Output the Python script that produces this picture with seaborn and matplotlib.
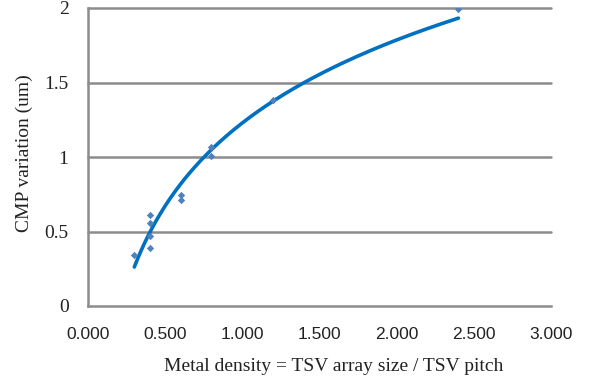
import numpy as np
import pandas as pd
import matplotlib
matplotlib.use("Agg")
import matplotlib.pyplot as plt
import seaborn as sns

# data
metal_density = [0.30, 0.40, 0.40, 0.40, 0.40, 0.60, 0.60, 0.80, 0.80, 1.20, 2.40]
cmp_variation = [0.34, 0.61, 0.56, 0.47, 0.39, 0.745, 0.71, 1.07, 1.01, 1.38, 1.99]
x_ticks = [0.0, 0.5, 1.0, 1.5, 2.0, 2.5, 3.0]
x_tick_labels = ["0.000", "0.500", "1.000", "1.500", "2.000", "2.500", "3.000"]
y_ticks = [0, 0.5, 1, 1.5, 2]
y_tick_labels = ["0", "0.5", "1", "1.5", "2"]

df = pd.DataFrame({"x": metal_density, "y": cmp_variation})

# logarithmic trendline fitted from the data
a, b = np.polyfit(np.log(df["x"]), df["y"], 1)
xs = np.linspace(min(metal_density), max(metal_density), 200)
trend = pd.DataFrame({"x": xs, "y": a * np.log(xs) + b})

sns.set_style("white")
fig = plt.figure(figsize=(5.89, 3.79), dpi=100)
ax = fig.add_axes([88/589, 1 - 306/379, (551-88)/589, (306-8)/379])

grid_c = "#8c8c8c"
for yv in y_ticks[1:]:
    ax.axhline(yv, color=grid_c, lw=1.8, zorder=0, clip_on=False)

sns.lineplot(data=trend, x="x", y="y", ax=ax, color="#0070c0", lw=2.6, zorder=3)
sns.scatterplot(data=df, x="x", y="y", ax=ax, marker="D", s=14, color="#4f81bd",
                edgecolor="#4f81bd", linewidth=0, zorder=4)

ax.set_xlim(0, 3)
ax.set_ylim(0, 2)
ax.set_xticks(x_ticks)
ax.set_xticklabels(x_tick_labels, fontfamily="Liberation Sans", fontsize=12.5, color="#222222")
ax.set_yticks(y_ticks)
ax.set_yticklabels(y_tick_labels, fontfamily="Liberation Serif", fontsize=14, color="#222222")
ax.tick_params(axis="x", direction="out", length=6, width=1.5, color=grid_c, pad=9)
ax.tick_params(axis="y", direction="out", length=6, width=1.5, color=grid_c, pad=8)
for s in ["top", "right"]:
    ax.spines[s].set_visible(False)
for s in ["left", "bottom"]:
    ax.spines[s].set_color(grid_c)
    ax.spines[s].set_linewidth(1.8)

ax.set_xlabel("Metal density = TSV array size / TSV pitch", fontfamily="Liberation Serif",
              fontsize=14, color="#222222")
ax.xaxis.set_label_coords((334 - 88) / 463, -0.175)
ax.xaxis.label.set_verticalalignment("top")
ax.set_ylabel("CMP variation (um)", fontfamily="Liberation Serif", fontsize=14,
              color="#222222", labelpad=8)
ax.yaxis.label.set_y(0.513)

fig.savefig("out.png", dpi=100)
